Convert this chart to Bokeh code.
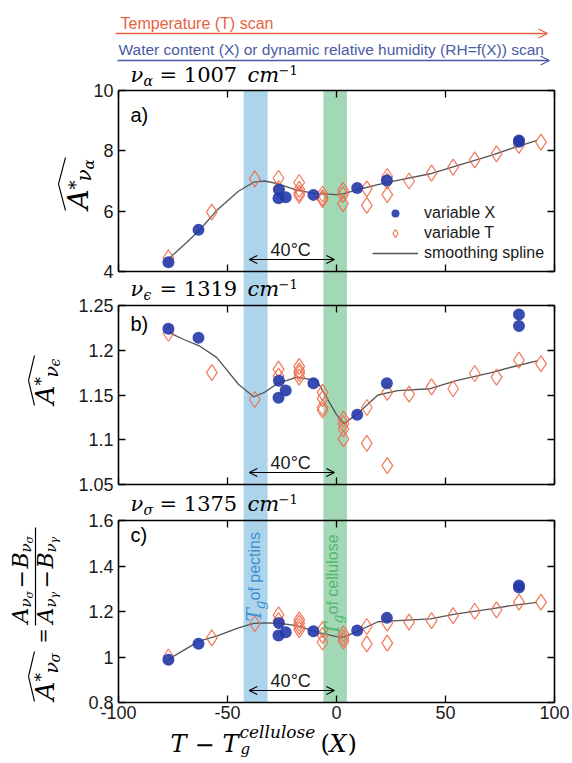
from math import pi
from bokeh.plotting import figure
from bokeh.models import (LinearAxis, FixedTicker, Range1d, Label, Arrow, OpenHead,
                          Legend, LegendItem)
from bokeh.embed import file_html
from bokeh.resources import INLINE

# ---------------- data ----------------
x_ticks = [-100, -50, 0, 50, 100]
x_tick_labels = ["-100", "-50", "0", "50", "100"]

a_ticks = [4, 6, 8, 10]
a_tick_labels = ["4", "6", "8", "10"]
b_ticks = [1.05, 1.1, 1.15, 1.2, 1.25]
b_tick_labels = ["1.05", "1.1", "1.15", "1.2", "1.25"]
c_ticks = [0.8, 1.0, 1.2, 1.4, 1.6]
c_tick_labels = ["0.8", "1", "1.2", "1.4", "1.6"]

# variable X (water content scan)
x_var_X = [-77.1, -63.3, -26.4, -26.6, -23.3, -10.6, 9.5, 23.1, 83.7, 83.7]
a_var_X = [4.31, 5.38, 6.71, 6.43, 6.46, 6.54, 6.77, 7.02, 8.34, 8.30]
b_var_X = [1.224, 1.214, 1.166, 1.147, 1.155, 1.163, 1.128, 1.163, 1.240, 1.227]
c_var_X = [0.988, 1.058, 1.149, 1.094, 1.109, 1.113, 1.116, 1.172, 1.314, 1.306]

# variable T (temperature scan)
a_x_T = [-77.1, -57.2, -37.5, -26.6, -26.6, -17.1, -17.1, -17.1, -17.1, -6.4, -6.4, -6.4,
         3.0, 3.0, 3.0, 13.9, 13.9, 23.3, 23.3, 23.3, 33.3, 43.6, 53.5, 63.4, 73.4, 83.7, 93.8]
a_var_T = [4.45, 5.97, 7.07, 7.09, 6.75, 6.95, 6.72, 6.60, 6.52, 6.57, 6.45, 6.38,
           6.69, 6.55, 6.25, 6.74, 6.19, 7.15, 7.00, 6.55, 7.00, 7.26, 7.46, 7.70, 7.90, 8.18, 8.29]
b_x_T = [-77.1, -57.2, -37.5, -26.6, -26.6, -17.1, -17.1, -17.1, -17.1, -6.4, -6.4, -6.4, -6.4,
         3.2, 3.2, 3.2, 3.2, 13.9, 13.9, 23.3, 23.3, 33.3, 43.6, 53.5, 63.4, 73.4, 83.7, 93.8]
b_var_T = [1.219, 1.175, 1.145, 1.179, 1.171, 1.182, 1.177, 1.174, 1.170, 1.153, 1.146, 1.136, 1.133,
           1.123, 1.118, 1.112, 1.101, 1.136, 1.096, 1.153, 1.071, 1.151, 1.159, 1.157, 1.174, 1.170,
           1.189, 1.185]
c_x_T = [-77.1, -57.2, -37.5, -26.6, -26.6, -17.1, -17.1, -17.1, -17.1, -6.4, -6.4, -6.4,
         3.2, 3.2, 3.2, 13.9, 13.9, 23.3, 23.3, 33.3, 43.6, 53.5, 63.4, 73.4, 83.7, 93.8]
c_var_T = [1.000, 1.084, 1.146, 1.185, 1.160, 1.163, 1.149, 1.134, 1.120, 1.120, 1.095, 1.065,
           1.102, 1.084, 1.070, 1.134, 1.058, 1.149, 1.061, 1.153, 1.160, 1.182, 1.201, 1.207,
           1.241, 1.241]

# smoothing spline
x_spline = [-77, -70, -63, -55, -45, -38, -33, -27, -18, -9, 0, 3.5, 9.6, 19, 28, 43, 55, 71, 80, 92]
a_spline = [4.42, 4.88, 5.36, 6.02, 6.66, 6.96, 7.00, 6.91, 6.69, 6.58, 6.55, 6.58, 6.71, 6.88,
            7.02, 7.24, 7.50, 7.85, 8.07, 8.35]
b_spline = [1.220, 1.212, 1.205, 1.192, 1.162, 1.148, 1.153, 1.163, 1.170, 1.166, 1.128, 1.118,
            1.129, 1.150, 1.155, 1.157, 1.166, 1.175, 1.181, 1.188]
c_spline = [0.990, 1.030, 1.070, 1.092, 1.128, 1.148, 1.150, 1.149, 1.138, 1.109, 1.090, 1.087,
            1.113, 1.155, 1.160, 1.168, 1.190, 1.212, 1.226, 1.240]

# Tg bands (pectins, cellulose)
band_left = [-42.6, -6.0]
band_right = [-31.6, 4.8]
band_colors = ["#acd5ec", "#a3d8b6"]

# ---------------- layout (page pixels) ----------------
W, H = 570, 760
FL, FR = 118, 554                       # panel box left / right
PANELS = {"a": (90, 271), "b": (305, 484), "c": (520, 702)}   # panel box top / bottom
SANS = "Liberation Sans"
SERIF = "DejaVu Serif"
BLUE = "#2338a8"
ORANGE = "#ee6a4a"
BASE_FIX = 0.36     # label anchor correction (fraction of font size)

def lin_range(v0, v1, p0, p1, total):
    """range whose values v0..v1 fall on pixels p0..p1 of a frame of size total"""
    k = (v1 - v0) / (p1 - p0)
    return Range1d(start=v0 - p0 * k, end=v1 + (total - p1) * k)

p = figure(width=W, height=H, x_range=Range1d(0, W), y_range=Range1d(H, 0),
           x_axis_location=None, y_axis_location=None, toolbar_location=None,
           output_backend="svg", min_border=0, outline_line_color=None,
           background_fill_color="white", border_fill_color="white")
p.grid.visible = False
p.extra_x_ranges = {"d": lin_range(-100, 100, FL, FR, W)}
yr = {}
for k, (lo, hi), (top, bot) in (("a", (4, 10), PANELS["a"]), ("b", (1.05, 1.25), PANELS["b"]),
                                ("c", (0.8, 1.6), PANELS["c"])):
    yr[k] = (lo, hi)
    p.extra_y_ranges[k] = lin_range(lo, hi, H - bot, H - top, H)

def lab(text, size, px, py, font=SERIF, style="normal", color="black",
        angle=0.0, align="left"):
    if angle:
        px = px - BASE_FIX * size
    else:
        py = py - BASE_FIX * size
    p.add_layout(Label(x=px, y=py, text=text, text_font=font, text_font_style=style,
                       text_font_size=f"{size}px", text_color=color, angle=angle,
                       text_align=align, text_baseline="alphabetic"))

def rot(text, size, bx, sy, font=SERIF, style="italic", color="black"):
    lab(text, size, bx, sy, font=font, style=style, color=color, angle=pi / 2)

def seg(x0, y0, x1, y1, w=1.2, color="black"):
    p.add_layout(Arrow(start=None, end=None, x_start=x0, y_start=y0, x_end=x1, y_end=y1,
                       line_color=color, line_width=w))

def hat(xe, xa, y0, y1):
    ym = (y0 + y1) / 2
    seg(xe, y0, xa, ym, 1.1)
    seg(xa, ym, xe, y1, 1.1)

# Tg bands running from the top of panel a to the bottom of panel c
p.quad(left=band_left, right=band_right, top=PANELS["a"][0], bottom=PANELS["c"][1],
       x_range_name="d", fill_color=band_colors, line_color=None)

renderers = {}
for k, vals_X, xT, vals_T, spl, yt, ytl in (
        ("a", a_var_X, a_x_T, a_var_T, a_spline, a_ticks, a_tick_labels),
        ("b", b_var_X, b_x_T, b_var_T, b_spline, b_ticks, b_tick_labels),
        ("c", c_var_X, c_x_T, c_var_T, c_spline, c_ticks, c_tick_labels)):
    lo, hi = yr[k]
    top, bot = PANELS[k]
    common = dict(x_range_name="d", y_range_name=k, major_tick_in=7, major_tick_out=0,
                  major_tick_line_width=1.3, minor_tick_line_color=None,
                  axis_line_width=1.6, axis_line_color="black",
                  major_label_text_font=SANS, major_label_text_font_size="18px",
                  major_label_text_color="#1a1a1a")
    p.add_layout(LinearAxis(fixed_location=-100, bounds=(lo, hi), ticker=FixedTicker(ticks=yt),
                            major_label_overrides=dict(zip(yt, ytl)), major_label_standoff=5,
                            **common), "left")
    p.add_layout(LinearAxis(fixed_location=100, bounds=(lo, hi), ticker=FixedTicker(ticks=yt),
                            major_label_overrides={t: "" for t in yt}, **common), "right")
    p.add_layout(LinearAxis(fixed_location=hi, bounds=(-100, 100),
                            ticker=FixedTicker(ticks=x_ticks),
                            major_label_overrides={t: "" for t in x_ticks}, **common), "above")
    xl = dict(zip(x_ticks, x_tick_labels)) if k == "c" else {t: "" for t in x_ticks}
    p.add_layout(LinearAxis(fixed_location=lo, bounds=(-100, 100),
                            ticker=FixedTicker(ticks=x_ticks), major_label_overrides=xl,
                            major_label_standoff=3, **common), "below")
    rs = p.line(x_spline, spl, x_range_name="d", y_range_name=k,
                line_color="#555555", line_width=1.3)
    rT = p.scatter(xT, vals_T, x_range_name="d", y_range_name=k, marker="diamond", size=16,
                   fill_color=None, line_color=ORANGE, line_width=1.2, line_alpha=0.9)
    rX = p.scatter(x_var_X, vals_X, x_range_name="d", y_range_name=k, marker="circle", size=12,
                   fill_color=BLUE, fill_alpha=0.9, line_color=None)
    renderers[k] = (rX, rT, rs)
    # 40 degC double arrow between the two Tg
    p.add_layout(Arrow(start=OpenHead(size=8, line_width=1.2), end=OpenHead(size=8, line_width=1.2),
                       x_start=-40, x_end=-1, y_start=bot - 12, y_end=bot - 12,
                       x_range_name="d", line_width=1.2))
    p.add_layout(Label(x=-21, y=bot - 15 - BASE_FIX * 18, x_range_name="d", text="40°C",
                       text_font=SANS, text_font_size="18px", text_align="center",
                       text_baseline="alphabetic", text_color="#1a1a1a"))

# ---------------- header: scan directions ----------------
RED_T = "#e8623f"
BLUE_T = "#4b5aa6"
lab("Temperature (T) scan", 16, 120, 29, font=SANS, color=RED_T)
p.add_layout(Arrow(end=OpenHead(size=9, line_color=RED_T, line_width=1.2), start=None,
                   x_start=115, y_start=33, x_end=547, y_end=33, line_color=RED_T, line_width=1.4))
lab("Water content (X) or dynamic relative humidity (RH=f(X)) scan", 15.5, 118, 55,
    font=SANS, color=BLUE_T)
p.add_layout(Arrow(end=OpenHead(size=9, line_color=BLUE_T, line_width=1.2), start=None,
                   x_start=117, y_start=60, x_end=549, y_end=60, line_color=BLUE_T, line_width=1.4))

# ---------------- panel titles ----------------
for sub, num, base in (("α", "= 1007", 82), ("ϵ", "= 1319", 296), ("σ", "= 1375", 511)):
    lab("ν", 21, 130, base, style="italic")
    lab(sub, 14, 143, base + 4, style="italic")
    lab(num, 21, 159, base)
    lab("cm", 21, 247, base, style="italic")
    lab("−1", 13, 278, base - 8)
lab("a)", 20, 130, 122, font=SANS)
lab("b)", 20, 130, 331, font=SANS)
lab("c)", 20, 130, 542, font=SANS)

# ---------------- y labels ----------------
# panel a:  Â*_{ν_α}
rot("A", 28, 88, 209)
rot("*", 18, 81, 189, style="normal")
rot("ν", 20, 91, 181)
rot("α", 15, 94, 169)
hat(65, 58, 210, 157)
# panel b:  Â*_{ν_ϵ}
rot("A", 26, 54, 404)
rot("*", 17, 47, 385, style="normal")
rot("ν", 19, 57, 377)
rot("ϵ", 14, 60, 366)
hat(34, 28, 405, 355)
# panel c:  Â*_{ν_σ} = (A - B)/(A - B)
rot("A", 26, 54, 700)
rot("*", 17, 47, 681, style="normal")
rot("ν", 19, 57, 673)
rot("σ", 14, 60, 662)
hat(34, 28, 701, 651)
rot("=", 18, 49, 643, style="normal")
for bx, sub in ((28, "σ"), (53, "γ")):
    rot("A", 22, bx, 623)
    rot("ν", 15, bx + 3, 607)
    rot(sub, 11, bx + 5, 598)
    rot("−", 22, bx, 588, style="normal")
    rot("B", 22, bx, 568)
    rot("ν", 15, bx + 3, 552)
    rot(sub, 11, bx + 5, 543)
seg(35, 625, 35, 527, 1.2)

# ---------------- Tg texts in the bands ----------------
PEC = "#3f8fd0"
CEL = "#52b86f"
rot("T", 20, 261, 621, color=PEC)
rot("g", 14, 265, 609, color=PEC)
rot(" of pectins", 16, 260, 600, font=SANS, style="normal", color=PEC)
rot("T", 20, 339, 635, color=CEL)
rot("g", 14, 343, 623, color=CEL)
rot(" of cellulose", 16, 338, 614, font=SANS, style="normal", color=CEL)

# ---------------- x label  T - T_g^{cellulose}(X) ----------------
lab("T", 24, 170, 752, style="italic")
lab("−", 24, 194, 752)
lab("T", 24, 222, 752, style="italic")
lab("cellulose", 17, 239, 738, style="italic")
lab("g", 15, 240, 754, style="italic")
lab("(", 24, 320, 752)
lab("X", 24, 329, 752, style="italic")
lab(")", 24, 347, 752)

# ---------------- legend (panel a) ----------------
rXa, rTa, rsa = renderers["a"]
p.add_layout(Legend(items=[LegendItem(label="variable X", renderers=[rXa]),
                           LegendItem(label="variable T", renderers=[rTa]),
                           LegendItem(label="smoothing spline", renderers=[rsa])],
                    location=(372, H - 263), padding=0, margin=0, spacing=0,
                    glyph_width=46, glyph_height=20, label_height=20, label_standoff=6,
                    label_text_font=SANS, label_text_font_size="16px",
                    label_text_color="#1a1a1a", border_line_color=None,
                    background_fill_alpha=0))

open("out.html", "w").write(file_html(p, INLINE))
